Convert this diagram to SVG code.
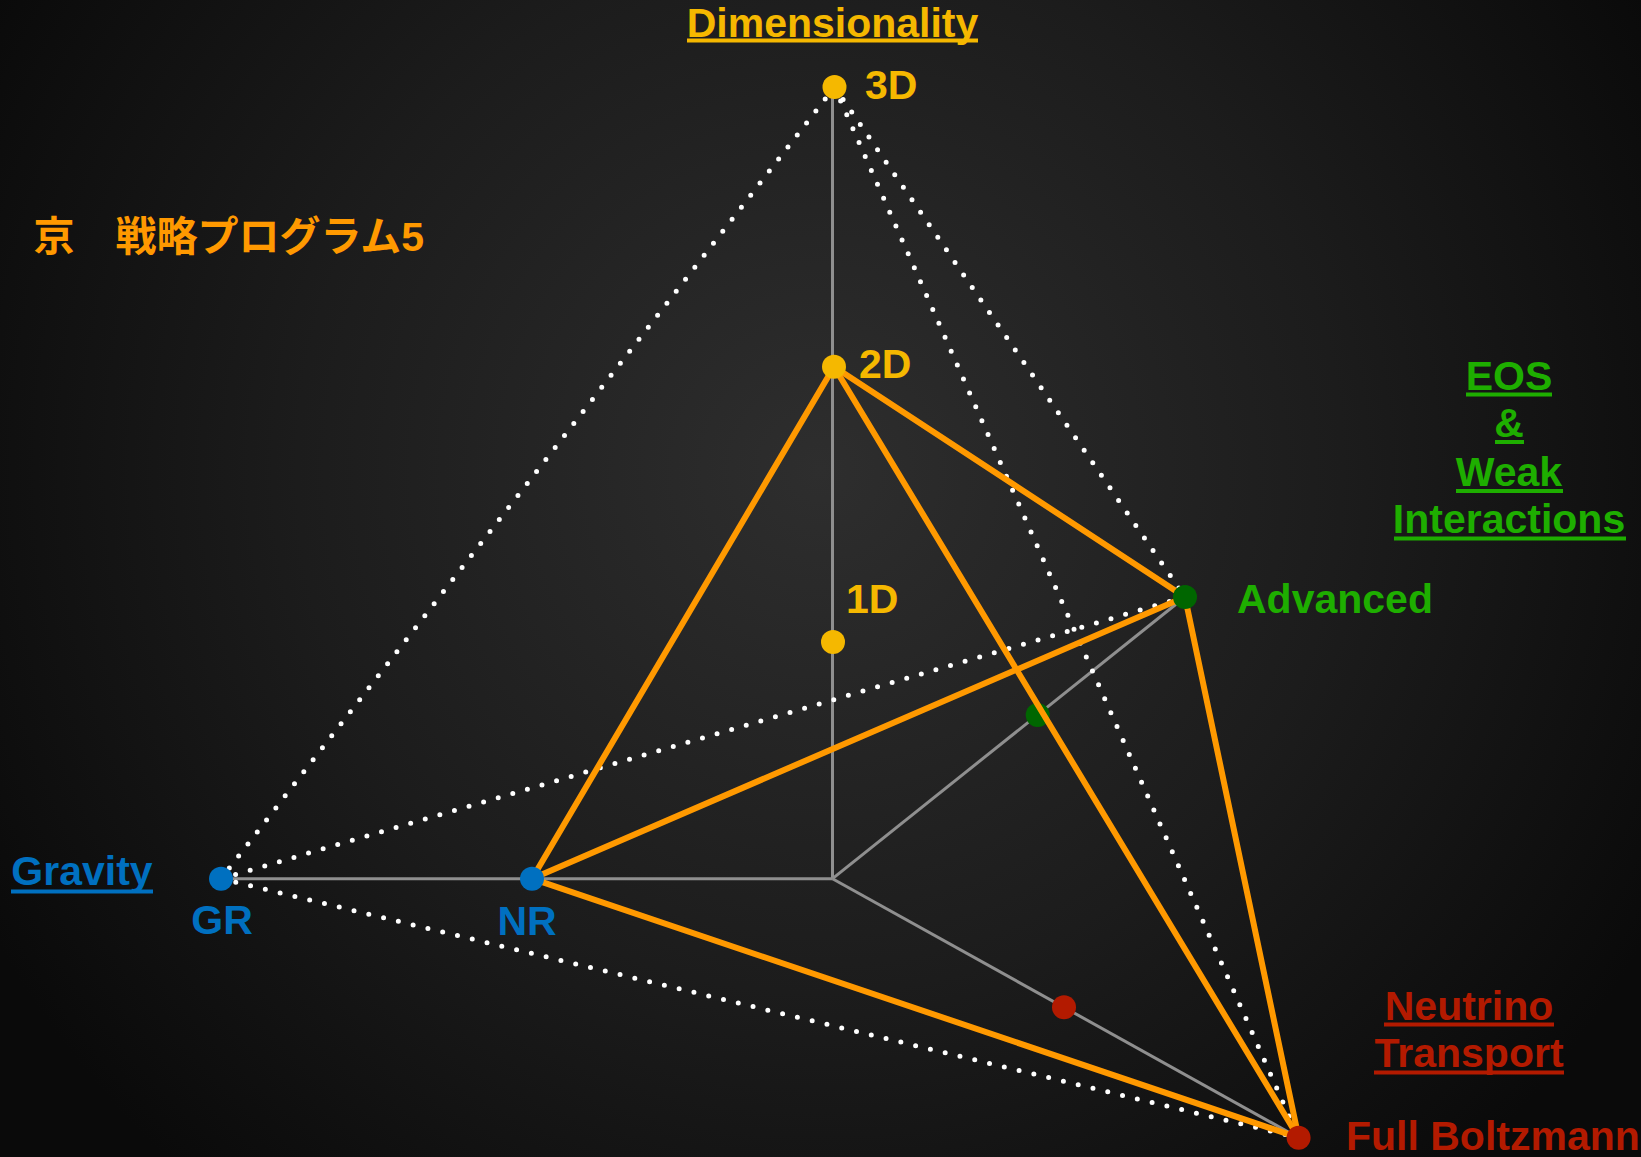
<svg xmlns="http://www.w3.org/2000/svg" width="1641" height="1157" viewBox="0 0 1641 1157">
  <defs>
    <radialGradient id="bg" cx="820" cy="470" r="950" gradientUnits="userSpaceOnUse">
      <stop offset="0" stop-color="#2e2e2e"/>
      <stop offset="0.55" stop-color="#1c1c1c"/>
      <stop offset="1" stop-color="#0a0a0a"/>
    </radialGradient>
    <style>
      .axis { stroke: #8f8f8f; stroke-width: 3; fill: none; }
      .dots { stroke: #ffffff; stroke-width: 5; stroke-linecap: round; stroke-dasharray: 0 15.2; fill: none; }
      .edge { stroke: #ff9900; stroke-width: 6; stroke-linecap: round; fill: none; }
      .lbl { font-family: "Liberation Sans", Arial, sans-serif; font-weight: bold; font-size: 41px; }
      .title { text-anchor: middle; }
      .yel { fill: #f5b800; }
      .blu { fill: #0070c0; }
      .grn { fill: #1eae00; }
      .red { fill: #b31a00; }
    </style>
  </defs>

  <rect width="1641" height="1157" fill="url(#bg)"/>

  <g id="connectors">
    <!-- axes from the origin -->
    <g id="axes">
      <line class="axis" x1="832.5" y1="878.7" x2="832.5" y2="87"/>
      <line class="axis" x1="832.5" y1="878.7" x2="221" y2="878.7"/>
      <line class="axis" x1="832.5" y1="878.7" x2="1185" y2="597"/>
      <line class="axis" x1="832.5" y1="878.7" x2="1298.6" y2="1137.7"/>
    </g>
    <!-- outer (maximum) tetrahedron, dotted -->
    <g id="outer">
      <line class="dots" x1="834.5" y1="87" x2="221" y2="878.7"/>
      <line class="dots" x1="834.5" y1="87" x2="1185" y2="597"/>
      <line class="dots" x1="834.5" y1="87" x2="1298.6" y2="1137.7"/>
      <line class="dots" x1="221" y1="878.7" x2="1185" y2="597"/>
      <line class="dots" x1="221" y1="878.7" x2="1298.6" y2="1137.7"/>
    </g>
  </g>

  <g id="node-eos-mid"><circle cx="1037.7" cy="715" r="12" fill="#006600"/></g>
  <g id="node-nu-mid"><circle cx="1064" cy="1007.3" r="12" fill="#b31a00"/></g>

  <!-- current program tetrahedron -->
  <g id="program">
    <line class="edge" x1="834" y1="366.7" x2="532" y2="878.7"/>
    <line class="edge" x1="834" y1="366.7" x2="1185" y2="597"/>
    <line class="edge" x1="834" y1="366.7" x2="1298.6" y2="1137.7"/>
    <line class="edge" x1="532" y1="878.7" x2="1185" y2="597"/>
    <line class="edge" x1="532" y1="878.7" x2="1298.6" y2="1137.7"/>
    <line class="edge" x1="1185" y1="597" x2="1298.6" y2="1137.7"/>
  </g>

  <g id="node-3d"><circle cx="834.5" cy="87" r="12" class="yel"/><text class="lbl yel" x="865" y="99" font-size="38">3D</text></g>
  <g id="node-2d"><circle cx="834" cy="366.7" r="12" class="yel"/><text class="lbl yel" x="859" y="378" font-size="38">2D</text></g>
  <g id="node-1d"><circle cx="833" cy="642" r="12" class="yel"/><text class="lbl yel" x="846" y="613" font-size="38">1D</text></g>
  <g id="node-gr"><circle cx="221" cy="878.7" r="12" class="blu"/><text class="lbl blu" x="222" y="934" text-anchor="middle" font-size="38">GR</text></g>
  <g id="node-nr"><circle cx="532" cy="878.7" r="12" class="blu"/><text class="lbl blu" x="527" y="935" text-anchor="middle" font-size="38">NR</text></g>
  <g id="node-advanced"><circle cx="1185" cy="597" r="12" fill="#006600"/><text class="lbl grn" x="1237" y="613">Advanced</text></g>
  <g id="node-boltzmann"><circle cx="1298.6" cy="1137.7" r="12" fill="#b31a00"/><text class="lbl red" x="1346" y="1150">Full Boltzmann</text></g>

  <!-- axis titles with their underlines -->
  <g id="title-dimensionality">
    <text class="lbl title yel" x="832.5" y="36.5">Dimensionality</text>
    <rect class="yel" x="687" y="38.5" width="291" height="4"/>
  </g>
  <g id="title-gravity">
    <text class="lbl title blu" x="82" y="885">Gravity</text>
    <rect class="blu" x="11" y="889.5" width="142" height="4"/>
  </g>
  <g id="title-eos">
    <text class="lbl title grn" x="1509" y="390">EOS</text>
    <rect class="grn" x="1466" y="392.5" width="86" height="4"/>
    <text class="lbl title grn" x="1509" y="437">&amp;</text>
    <rect class="grn" x="1495" y="440" width="29" height="4"/>
    <text class="lbl title grn" x="1509" y="486">Weak</text>
    <rect class="grn" x="1456" y="489" width="107" height="4"/>
    <text class="lbl title grn" x="1509" y="533">Interactions</text>
    <rect class="grn" x="1394" y="536.5" width="232" height="4"/>
  </g>
  <g id="title-neutrino">
    <text class="lbl title red" x="1469" y="1020">Neutrino</text>
    <rect class="red" x="1384" y="1022.5" width="170" height="4"/>
    <text class="lbl title red" x="1469" y="1067">Transport</text>
    <rect class="red" x="1374" y="1070.5" width="190" height="4"/>
  </g>

  <g id="program-name">
    <text x="33.5" y="251" fill="#ff9900" font-size="41" font-weight="bold" font-family="'Liberation Sans', 'Noto Sans CJK JP', sans-serif">京　戦略プログラム5</text>
  </g>
</svg>
